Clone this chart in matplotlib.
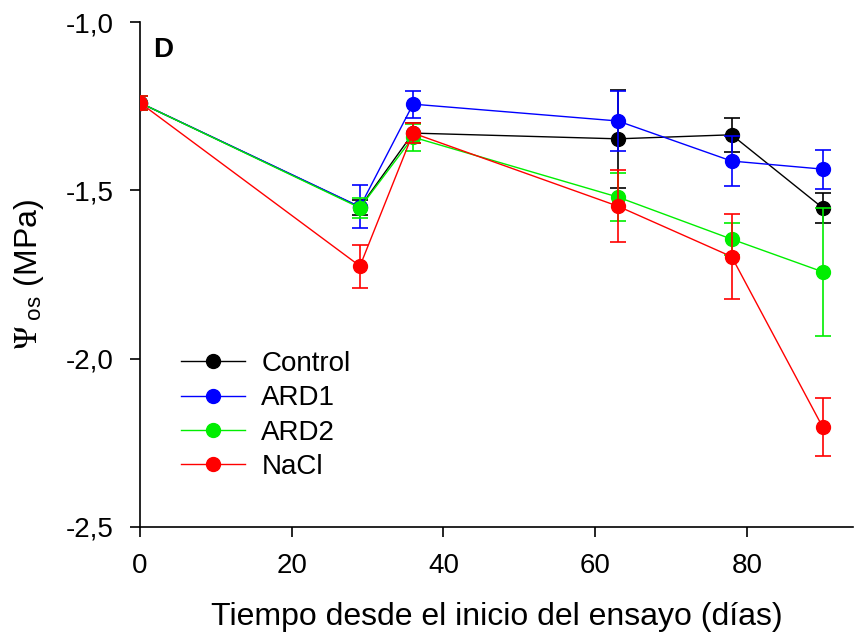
import numpy as np
import matplotlib.pyplot as plt
from matplotlib.ticker import FuncFormatter

plt.rcParams['font.family'] = ['Liberation Sans', 'DejaVu Sans']
plt.rcParams['mathtext.fontset'] = 'stix'

dias = [0, 29, 36, 63, 78, 90]

control = [-1.24, -1.55, -1.33, -1.347, -1.335, -1.552]
control_err = [0.02, 0.022, 0.03, 0.145, 0.05, 0.045]

ard1 = [-1.24, -1.549, -1.244, -1.294, -1.413, -1.437]
ard1_err = [0.02, 0.064, 0.04, 0.09, 0.074, 0.058]

ard2 = [-1.24, -1.552, -1.342, -1.52, -1.645, -1.742]
ard2_err = [0.02, 0.03, 0.04, 0.07, 0.048, 0.19]

nacl = [-1.24, -1.725, -1.33, -1.547, -1.697, -2.203]
nacl_err = [0.02, 0.064, 0.03, 0.107, 0.127, 0.085]

series = [
    ('Control', control, control_err, 'black'),
    ('ARD1', ard1, ard1_err, '#0000ff'),
    ('ARD2', ard2, ard2_err, '#00ee00'),
    ('NaCl', nacl, nacl_err, '#ff0000'),
]

fig = plt.figure(figsize=(8.55, 6.32), dpi=100)
ax = fig.add_axes([140 / 855, 1 - 527 / 632, 713 / 855, 505 / 632])

handles = []
for i, (name, vals, err, col) in enumerate(series):
    ax.errorbar(
        dias,
        vals,
        yerr=err,
        fmt='none',
        ecolor=col,
        elinewidth=1.2,
        capsize=6,
        capthick=1.2,
        zorder=2 + i)
    line, = ax.plot(
        dias,
        vals,
        '-o',
        color=col,
        lw=1.0,
        markersize=10,
        label=name,
        zorder=2 + i)
    handles.append(line)

ax.set_xlim(0, 94)
ax.set_ylim(-2.5, -1.0)
ax.set_xticks([0, 20, 40, 60, 80])
ax.set_yticks([-2.5, -2.0, -1.5, -1.0])
ax.yaxis.set_major_formatter(FuncFormatter(lambda v, p: f'{v:.1f}'.replace('.', ',')))

ax.spines['top'].set_visible(False)
ax.spines['right'].set_visible(False)
ax.spines['left'].set_linewidth(1.2)
ax.spines['bottom'].set_linewidth(1.2)
ax.tick_params(
    axis='both',
    direction='out',
    length=7,
    width=1.2,
    labelsize=20)
ax.tick_params(axis='x', pad=12)
ax.tick_params(axis='y', pad=12)

ax.set_xlabel(
    'Tiempo desde el inicio del ensayo (días)',
    fontsize=23,
    labelpad=16)
ax.set_ylabel(
    r'$\Psi_{\ \mathregular{os}}$ (MPa)',
    fontsize=23,
    labelpad=14)

ax.text(
    0.019, 0.97,
    'D',
    transform=ax.transAxes,
    fontsize=20,
    fontweight='bold',
    va='top',
    ha='left')

ax.legend(
    handles=handles,
    loc='lower left',
    bbox_to_anchor=(0.058, 0.093),
    frameon=False,
    fontsize=20,
    handlelength=2.3,
    handletextpad=0.58,
    labelspacing=0.3,
    borderaxespad=0,
    borderpad=0)

fig.savefig('out.png', dpi=100)
